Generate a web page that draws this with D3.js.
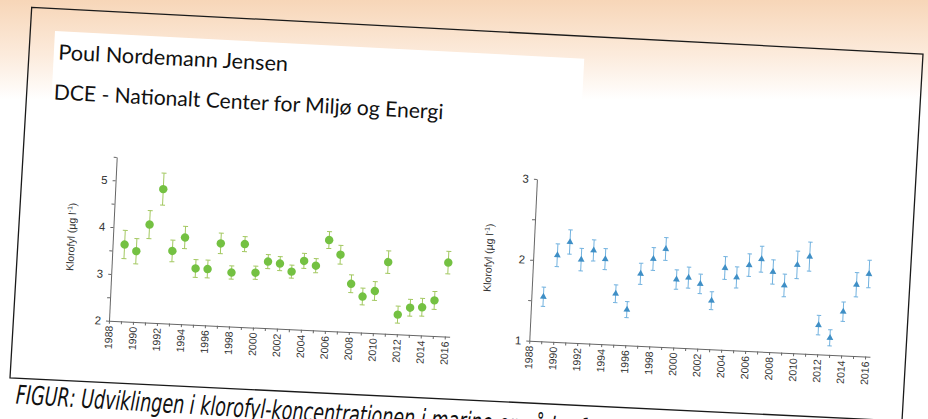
<!DOCTYPE html>
<html>
<head>
<meta charset="utf-8">
<script src="https://cdn.jsdelivr.net/npm/d3@7"></script>
<style>
  body { margin: 0; background: #fff; }
  svg { display: block; }
</style>
</head>
<body>
<svg id="fig" width="928" height="419"></svg>
<script>
// data
const years = [1989,1990,1991,1992,1993,1994,1995,1996,1997,1998,1999,2000,2001,2002,
               2003,2004,2005,2006,2007,2008,2009,2010,2011,2012,2013,2014,2015,2016]

const greenMean = [3.64,3.51,4.09,4.86,3.55,3.85,3.20,3.20,3.76,3.15,3.77,3.17,3.42,3.39,
                   3.23,3.47,3.38,3.94,3.64,3.03,2.77,2.90,3.53,2.42,2.58,2.60,2.76,3.58]
const greenErr  = [0.30,0.27,0.30,0.34,0.23,0.24,0.19,0.19,0.22,0.14,0.16,0.14,0.15,0.15,
                   0.14,0.16,0.15,0.18,0.20,0.19,0.18,0.20,0.24,0.18,0.18,0.19,0.19,0.24]

const blueMean = [1.55,2.07,2.24,2.03,2.15,2.05,1.63,1.44,1.89,2.08,2.21,1.84,1.87,1.80,
                  1.60,2.01,1.90,2.06,2.14,1.99,1.83,2.09,2.20,1.36,1.21,1.54,1.88,2.02]
const blueErr  = [0.12,0.14,0.15,0.14,0.13,0.13,0.11,0.10,0.13,0.14,0.14,0.12,0.13,0.12,
                  0.11,0.14,0.13,0.14,0.16,0.15,0.14,0.17,0.18,0.12,0.10,0.12,0.15,0.17]

const yearTicks = [1988,1989,1990,1991,1992,1993,1994,1995,1996,1997,1998,1999,2000,2001,2002,
                   2003,2004,2005,2006,2007,2008,2009,2010,2011,2012,2013,2014,2015,2016]
const yearLabels = [1988,1990,1992,1994,1996,1998,2000,2002,2004,2006,2008,2010,2012,2014,2016]

const greenTicks = [2,2.5,3,3.5,4,4.5,5,5.5]
const greenLabels = [2,3,4,5]
const blueTicks = [1,1.5,2,2.5,3]
const blueLabels = [1,2,3]

const header1 = "Poul Nordemann Jensen"
const header2 = "DCE - Nationalt Center for Miljø og Energi"
const caption = "FIGUR: Udviklingen i klorofyl-koncentrationen i marine områder fra"

const svg = d3.select('#fig')

// BACKGROUND
const defs = svg.append('defs')
const grad = defs.append('linearGradient')
    .attr('id', 'bg')
    .attr('gradientUnits', 'userSpaceOnUse')
    .attr('x1', 0).attr('y1', 0).attr('x2', 0).attr('y2', 100)
grad.append('stop').attr('offset', 0).attr('stop-color', '#f7d6b8')
grad.append('stop').attr('offset', 0.55).attr('stop-color', '#fcebdc')
grad.append('stop').attr('offset', 1).attr('stop-color', '#ffffff')

svg.append('rect')
    .attr('width', 928).attr('height', 419)
    .attr('fill', 'url(#bg)')

// white block behind the header text
svg.append('rect')
    .attr('transform', 'translate(55,31) rotate(3)')
    .attr('width', 530).attr('height', 120)
    .attr('fill', '#ffffff')

// CARD BORDER (slightly keystoned photo)
const corners = [[31.7, 7.3], [923, 54], [902, 421], [10, 378]]
svg.append('path')
    .attr('d', d3.line()(corners) + 'Z')
    .attr('fill', 'none')
    .attr('stroke', '#1a1a1a')
    .attr('stroke-width', 1.3)

// HEADER
svg.append('text')
    .attr('transform', 'translate(58,59.5) rotate(2.9)')
    .attr('font-family', 'Lato, "Noto Sans", sans-serif')
    .attr('font-size', 21)
    .attr('fill', '#111')
    .attr('textLength', 230)
    .attr('lengthAdjust', 'spacingAndGlyphs')
    .text(header1)

svg.append('text')
    .attr('transform', 'translate(53.5,99.5) rotate(2.9)')
    .attr('font-family', 'Lato, "Noto Sans", sans-serif')
    .attr('font-size', 21)
    .attr('fill', '#111')
    .attr('textLength', 390)
    .attr('lengthAdjust', 'spacingAndGlyphs')
    .text(header2)

// PANELS
function panel(opt) {
    const g = svg.append('g')
        .attr('transform', `translate(${opt.x},${opt.y}) rotate(2.7)`)

    const x = d3.scaleLinear([1988, 2016.4], [0, 341])
    const y = d3.scaleLinear(opt.domain, [0, -opt.height])

    // y axis
    const yAxis = d3.axisLeft(y)
        .tickValues(opt.ticks)
        .tickFormat(d => opt.labels.includes(d) ? d : '')
        .tickSize(3)
        .tickSizeOuter(0)
        .tickPadding(5)
    const ya = g.append('g').call(yAxis)
    ya.select('.domain').attr('stroke', '#666')
    ya.selectAll('.tick line').attr('stroke', '#666')
    ya.selectAll('text')
        .attr('font-family', '"Liberation Sans", Arial, sans-serif')
        .attr('font-size', 11.5)
        .attr('fill', '#333')

    // x axis
    const xAxis = d3.axisBottom(x)
        .tickValues(yearTicks)
        .tickFormat(d => yearLabels.includes(d) ? d : '')
        .tickSize(3)
        .tickSizeOuter(0)
    const xa = g.append('g').call(xAxis)
    xa.select('.domain').attr('stroke', '#666')
    xa.selectAll('.tick line').attr('stroke', '#666')
    xa.selectAll('text')
        .attr('transform', 'rotate(-90)')
        .attr('x', -5)
        .attr('y', 0)
        .attr('dy', '0.34em')
        .attr('text-anchor', 'end')
        .attr('font-family', '"Liberation Sans", Arial, sans-serif')
        .attr('font-size', 10.5)
        .attr('fill', '#333')

    // y title
    const t = g.append('text')
        .attr('transform', `translate(${opt.titleX},${-opt.height / 2}) rotate(-90)`)
        .attr('text-anchor', 'middle')
        .attr('font-family', '"Liberation Sans", Arial, sans-serif')
        .attr('font-size', 10.5)
        .attr('fill', '#333')
    t.append('tspan').text('Klorofyl (µg l')
    t.append('tspan').attr('dy', -4).attr('font-size', 7).text('-1')
    t.append('tspan').attr('dy', 4).text(')')

    const rows = years.map((yr, i) => ({year: yr, m: opt.mean[i], e: opt.err[i]}))

    // error bars
    const bars = g.append('g')
        .attr('stroke', opt.barColor)
        .attr('stroke-width', 1)
    bars.selectAll('.stem')
        .data(rows)
        .join('line')
        .attr('x1', d => x(d.year)).attr('x2', d => x(d.year))
        .attr('y1', d => y(d.m - d.e)).attr('y2', d => y(d.m + d.e))
    bars.selectAll('.capTop')
        .data(rows)
        .join('line')
        .attr('x1', d => x(d.year) - opt.cap).attr('x2', d => x(d.year) + opt.cap)
        .attr('y1', d => y(d.m + d.e)).attr('y2', d => y(d.m + d.e))
    bars.selectAll('.capBot')
        .data(rows)
        .join('line')
        .attr('x1', d => x(d.year) - opt.cap).attr('x2', d => x(d.year) + opt.cap)
        .attr('y1', d => y(d.m - d.e)).attr('y2', d => y(d.m - d.e))

    // markers
    g.append('g')
        .selectAll('path')
        .data(rows)
        .join('path')
        .attr('d', d3.symbol(opt.symbol, opt.size))
        .attr('transform', d => `translate(${x(d.year)},${y(d.m)})`)
        .attr('fill', opt.color)
}

panel({
    x: 109, y: 320.7, height: 164,
    domain: [2, 5.5], ticks: greenTicks, labels: greenLabels,
    mean: greenMean, err: greenErr,
    symbol: d3.symbolCircle, size: 56,
    color: '#74c142', barColor: '#a3c860', cap: 2.5, titleX: -38
})

panel({
    x: 529.3, y: 340.7, height: 162,
    domain: [1, 3], ticks: blueTicks, labels: blueLabels,
    mean: blueMean, err: blueErr,
    symbol: d3.symbolTriangle, size: 20,
    color: '#3f8fc6', barColor: '#72b2df', cap: 2.2, titleX: -41
})

// CAPTION (condensed italic, runs off the bottom edge like the photo)
svg.append('text')
    .attr('transform', 'translate(15.5,403.5) rotate(3.4) scale(0.75,1)')
    .attr('font-family', '"DejaVu Sans Condensed", "DejaVu Sans", sans-serif')
    .attr('font-style', 'italic')
    .attr('font-size', 26)
    .attr('fill', '#111')
    .text(caption)
</script>
</body>
</html>
